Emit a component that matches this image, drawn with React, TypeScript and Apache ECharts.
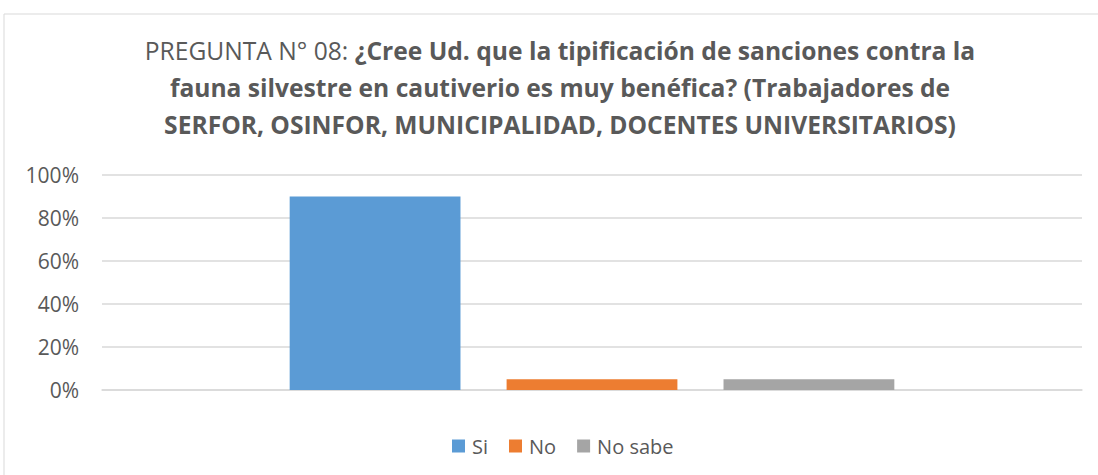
import React, { useEffect, useRef } from "react";
import * as echarts from "echarts";

const categories: string[] = [""];
const seriesNames: string[] = ["Si", "No", "No sabe"];
const siValues: number[] = [90];
const noValues: number[] = [5];
const noSabeValues: number[] = [5];
const seriesColors: string[] = ["#5B9BD5", "#ED7D31", "#A5A5A5"];
const titleLines: string[] = [
  "¿Cree Ud. que la tipificación de sanciones contra la",
  "fauna silvestre en cautiverio es muy benéfica? (Trabajadores de",
  "SERFOR, OSINFOR, MUNICIPALIDAD, DOCENTES UNIVERSITARIOS)",
];
const titlePrefix = "PREGUNTA N° 08: ";

const FONT = "'Open Sans', 'Noto Sans', sans-serif";
const TXT = "#595959";

export default function App() {
  const ref = useRef<HTMLDivElement>(null);
  useEffect(() => {
    if (!ref.current) return;
    const chart = echarts.init(ref.current, undefined, { renderer: "svg" });
    const values = [siValues, noValues, noSabeValues];
    const titleSize = 24.6;
    const rich = {
      n: { fontSize: titleSize, fontFamily: FONT, fontWeight: "normal", fill: TXT, color: TXT },
      b: { fontSize: titleSize, fontFamily: FONT, fontWeight: "bold", fill: TXT, color: TXT },
    } as any;
    const lineYs = [50, 87, 124];
    chart.setOption({
      animation: false,
      backgroundColor: "#ffffff",
      graphic: [
        {
          type: "rect",
          shape: { x: 4, y: 14, width: 1110, height: 480 },
          style: { fill: "none", stroke: "#d9d9d9", lineWidth: 1 },
          silent: true,
        },
        ...titleLines.map((line, i) => ({
          type: "text",
          x: 560,
          y: lineYs[i],
          style: {
            text: i === 0 ? `{n|${titlePrefix}}{b|${line}}` : `{b|${line}}`,
            rich,
            fontSize: titleSize,
            fontFamily: FONT,
            fill: TXT,
            align: "center",
            verticalAlign: "middle",
            textAlign: "center",
            textVerticalAlign: "middle",
          },
          silent: true,
        })),
      ],
      legend: {
        data: seriesNames,
        left: 452,
        top: 436,
        padding: 0,
        itemWidth: 13,
        itemHeight: 13,
        itemGap: 21,
        icon: "rect",
        textStyle: { color: TXT, fontSize: 20, fontFamily: FONT, padding: [0, 0, 0, 2] },
      },
      grid: { left: 102, right: 16, top: 175, bottom: 85, containLabel: false },
      xAxis: {
        type: "category",
        data: categories,
        axisLine: { show: true, lineStyle: { color: "#d9d9d9", width: 1.5 } },
        axisTick: { show: false },
        axisLabel: { show: false },
      },
      yAxis: {
        type: "value",
        min: 0,
        max: 100,
        interval: 20,
        axisLine: { show: false },
        axisTick: { show: false },
        splitLine: { lineStyle: { color: "#d9d9d9", width: 1.5 } },
        axisLabel: {
          formatter: "{value}%",
          color: TXT,
          fontSize: 21,
          fontFamily: FONT,
          margin: 23,
        },
      },
      series: seriesNames.map((name, i) => ({
        name,
        type: "bar",
        data: values[i],
        barGap: "27%",
        barCategoryGap: "38.3%",
        itemStyle: { color: seriesColors[i] },
      })),
    });
    return () => chart.dispose();
  }, []);
  return (
    <div
      ref={ref}
      style={{ position: "absolute", left: 0, top: 0, width: 1098, height: 475 }}
    />
  );
}
